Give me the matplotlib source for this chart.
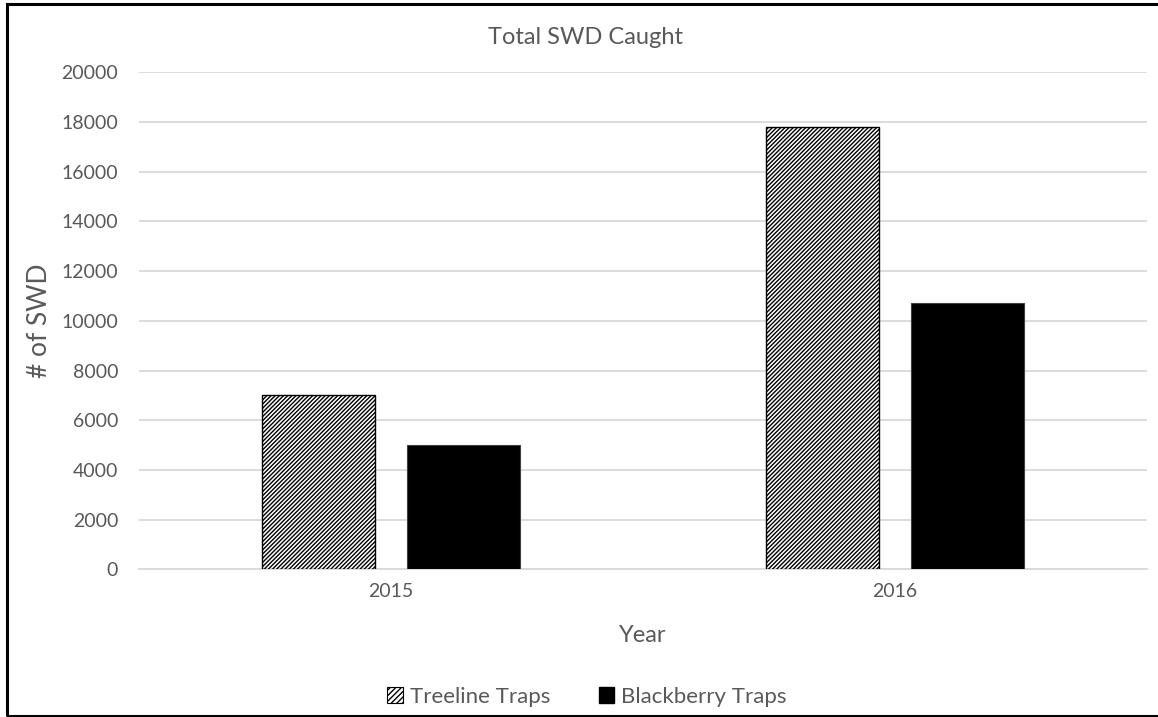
import numpy as np
import matplotlib.pyplot as plt
from matplotlib.patches import Rectangle, Patch

# Data
years = ["2015", "2016"]
treeline = [7000, 17800]
blackberry = [5000, 10700]
yticks = [0, 2000, 4000, 6000, 8000, 10000, 12000, 14000, 16000, 18000, 20000]

TEXT = "#595959"
GRID = "#d9d9d9"
HATCH = "////////"

plt.rcParams["font.family"] = ["Lato", "DejaVu Sans"]
plt.rcParams["hatch.linewidth"] = 1.0

fig = plt.figure(figsize=(11.58, 7.17), dpi=100)
ax = fig.add_axes([139 / 1158, 1 - 569.3 / 717, 1008 / 1158, (569.3 - 72.3) / 717])

x = np.arange(len(years))
w = 0.224
off = 0.143
ax.bar(x - off, treeline, w, color="white", edgecolor="black", hatch=HATCH,
       linewidth=1.0, label="Treeline Traps", zorder=3)
ax.bar(x + off, blackberry, w, color="black", edgecolor="#404040",
       linewidth=0.8, label="Blackberry Traps", zorder=3)

ax.set_xlim(-0.5, 1.5)
ax.set_ylim(0, 20000)
ax.set_yticks(yticks)
ax.set_xticks(x)
ax.set_xticklabels(years)
ax.yaxis.grid(True, color=GRID, linewidth=1.3, zorder=0)
ax.set_axisbelow(True)
for s in ["top", "right", "left"]:
    ax.spines[s].set_visible(False)
ax.spines["bottom"].set_color(GRID)
ax.spines["bottom"].set_linewidth(1.3)
ax.tick_params(axis="both", length=0, colors=TEXT, labelsize=14)
ax.tick_params(axis="x", pad=10)
ax.tick_params(axis="y", pad=15)

ax.set_xlabel("Year", fontsize=17, color=TEXT, labelpad=18)
ax.set_ylabel("# of SWD", fontsize=19, color=TEXT)
ax.yaxis.set_label_coords(-0.086, 0.5)
fig.text(586 / 1158, 1 - 38 / 717, "Total SWD Caught", ha="center", va="center",
         fontsize=17, color=TEXT)

handles = [Patch(facecolor="white", edgecolor="black", hatch="//////", linewidth=0.8),
           Patch(facecolor="black", edgecolor="black")]
leg = fig.legend(handles, ["Treeline Traps", "Blackberry Traps"], loc="center",
                 bbox_to_anchor=(587 / 1158, 1 - 697 / 717), ncol=2, frameon=False,
                 fontsize=16, handlelength=0.7, handleheight=0.7, handletextpad=0.3,
                 columnspacing=2.2)
for t in leg.get_texts():
    t.set_color(TEXT)

# outer chart border
fig.patches.append(Rectangle((7 / 1158, 1 / 717), 1.1, 1 - 5 / 717, transform=fig.transFigure,
                             fill=False, edgecolor="black", linewidth=2.2))

fig.savefig("out.png", dpi=100)
